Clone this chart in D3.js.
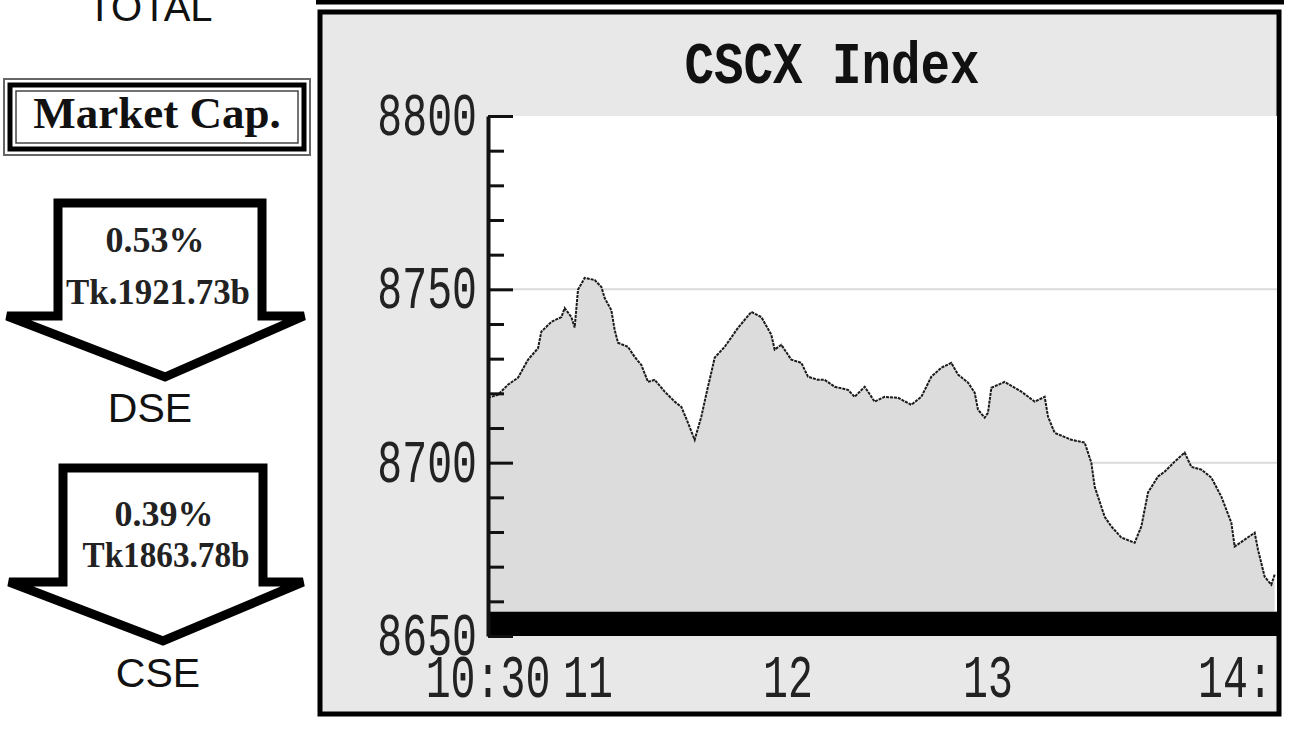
<!DOCTYPE html>
<html>
<head>
<meta charset="utf-8">
<script src="https://cdn.jsdelivr.net/npm/d3@7"></script>
<style>
  html, body { margin: 0; padding: 0; background: #ffffff; }
  svg { display: block; }
</style>
</head>
<body>
<svg id="chart" width="1296" height="729"></svg>
<script>
// ---------- data ----------
const times = ["10:30","10:33","10:36","10:39","10:42","10:45","10:46","10:49","10:52","10:53",
  "10:55","10:56","10:57","10:59","11:02","11:04","11:05","11:07","11:08","11:09",
  "11:12","11:14","11:16","11:18","11:20","11:23","11:26","11:28","11:30","11:32",
  "11:34","11:36","11:37","11:38","11:41","11:45","11:49","11:52","11:55","11:56",
  "11:58","12:01","12:04","12:06","12:09","12:11","12:14","12:18","12:20","12:23",
  "12:26","12:29","12:33","12:37","12:40","12:43","12:46","12:49","12:51","12:54",
  "12:56","12:57","12:59","13:00","13:01","13:05","13:10","13:14","13:17","13:18",
  "13:20","13:25","13:29","13:31","13:32","13:35","13:37","13:40","13:44","13:46",
  "13:48","13:51","13:53","13:56","13:59","14:01","14:04","14:07","14:10","14:13",
  "14:14","14:17","14:20","14:21","14:23","14:25","14:26"];
const indexValues = [8718.7,8719.6,8722.5,8724.5,8729.7,8733.0,8737.8,8740.6,8742.0,8744.6,
  8742.0,8739.0,8749.9,8753.3,8752.7,8750.7,8747.5,8744.0,8738.3,8734.6,
  8733.4,8730.5,8728.2,8723.3,8723.9,8720.5,8717.6,8716.1,8711.5,8706.6,
  8713.3,8722.0,8726.0,8730.3,8733.4,8738.9,8743.5,8742.0,8736.9,8732.6,
  8734.0,8729.7,8728.8,8724.8,8723.9,8723.9,8721.9,8721.0,8719.0,8721.9,
  8717.6,8719.0,8718.7,8716.7,8719.0,8724.8,8727.4,8728.8,8725.4,8723.1,
  8720.2,8715.3,8713.0,8714.4,8721.6,8723.3,8720.5,8717.6,8719.0,8713.3,
  8708.6,8706.6,8705.8,8700.0,8693.1,8684.4,8681.6,8678.4,8676.9,8681.6,
  8691.4,8696.0,8697.4,8700.3,8702.9,8698.8,8698.0,8695.7,8690.2,8682.7,
  8675.8,8677.8,8679.8,8674.9,8667.1,8664.8,8667.7];

const yTickLabels = [8650, 8700, 8750, 8800];
const xTickTimes = ["10:30","11:00","12:00","13:00","14:00"];
const xTickLabels = ["10:30","11","12","13","14:"];
const chartTitle = "CSCX Index";

const exchanges = ["DSE", "CSE"];
const capChangePct = ["0.53%", "0.39%"];
const capValues = ["Tk.1921.73b", "Tk1863.78b"];

// ---------- helpers ----------
const toMin = t => { const [h, m] = t.split(":").map(Number); return (h - 10) * 60 + m - 30; };
const data = times.map((t, i) => ({ m: toMin(t), v: indexValues[i] }));

const svg = d3.select("#chart");

// ---------- left panel ----------
const left = svg.append("g");
left.append("text").attr("x", 150).attr("y", 21).attr("text-anchor", "middle")
  .attr("font-family", "Liberation Sans, Arial, sans-serif").attr("font-size", 40).attr("fill", "#111")
  .text("TOTAL");

left.append("rect").attr("x", 4).attr("y", 79).attr("width", 306).attr("height", 76)
  .attr("fill", "none").attr("stroke", "#666").attr("stroke-width", 2);
left.append("rect").attr("x", 10).attr("y", 85).attr("width", 294).attr("height", 64)
  .attr("fill", "none").attr("stroke", "#000").attr("stroke-width", 5);
left.append("rect").attr("x", 16).attr("y", 91).attr("width", 282).attr("height", 52)
  .attr("fill", "#fff").attr("stroke", "#444").attr("stroke-width", 1.5);
left.append("text").attr("x", 157).attr("y", 128).attr("text-anchor", "middle")
  .attr("font-family", "Liberation Serif, 'Times New Roman', serif").attr("font-weight", "bold")
  .attr("font-size", 45).attr("fill", "#111").text("Market Cap.");

const arrows = [
  { stemL: 58, stemR: 262, top: 203, wing: 316, tipL: 7, tipR: 304, bx: 165, by: 377,
    pctX: 155, pctY: 252, valX: 158, valY: 304, valW: 184, nameX: 150, nameY: 422 },
  { stemL: 63, stemR: 263, top: 468, wing: 582, tipL: 9, tipR: 303, bx: 163, by: 641,
    pctX: 164, pctY: 526, valX: 166, valY: 567, valW: 167, nameX: 158, nameY: 687 }
];
arrows.forEach((a, i) => {
  const pts = [[a.stemL, a.top], [a.stemR, a.top], [a.stemR, a.wing], [a.tipR, a.wing],
               [a.bx, a.by], [a.tipL, a.wing], [a.stemL, a.wing]];
  left.append("polygon").attr("points", pts.map(p => p.join(",")).join(" "))
    .attr("fill", "#fff").attr("stroke", "#000").attr("stroke-width", 9)
    .attr("stroke-linejoin", "miter");
  left.append("text").attr("x", a.pctX).attr("y", a.pctY).attr("text-anchor", "middle")
    .attr("font-family", "Liberation Serif, 'Times New Roman', serif").attr("font-weight", "bold")
    .attr("font-size", 36).attr("fill", "#222").text(capChangePct[i]);
  left.append("text").attr("x", a.valX).attr("y", a.valY).attr("text-anchor", "middle")
    .attr("font-family", "Liberation Serif, 'Times New Roman', serif").attr("font-weight", "bold")
    .attr("font-size", 35).attr("fill", "#222")
    .attr("textLength", a.valW).attr("lengthAdjust", "spacingAndGlyphs").text(capValues[i]);
  left.append("text").attr("x", a.nameX).attr("y", a.nameY).attr("text-anchor", "middle")
    .attr("font-family", "Liberation Sans, Arial, sans-serif").attr("font-size", 41)
    .attr("fill", "#111").text(exchanges[i]);
});

// ---------- chart frame ----------
svg.append("line").attr("x1", 316).attr("x2", 1284).attr("y1", 2).attr("y2", 2)
  .attr("stroke", "#000").attr("stroke-width", 5);
svg.append("rect").attr("x", 320).attr("y", 12).attr("width", 959).attr("height", 702)
  .attr("fill", "#e8e8e8").attr("stroke", "#000").attr("stroke-width", 5);

// scales
const x = d3.scaleLinear().domain([0, 240]).range([488, 1288]);
const y = d3.scaleLinear().domain([8650, 8800]).range([636, 116]);
const plotRight = 1277;
const barTop = 8657;

svg.append("defs").append("clipPath").attr("id", "plotclip")
  .append("rect").attr("x", x(0)).attr("y", 100).attr("width", plotRight - x(0)).attr("height", 540);

const plot = svg.append("g").attr("clip-path", "url(#plotclip)");
plot.append("rect").attr("x", x(0)).attr("y", y(8800)).attr("width", plotRight - x(0))
  .attr("height", y(barTop) - y(8800)).attr("fill", "#ffffff");

// gridlines
plot.selectAll("line.grid").data([8700, 8750]).join("line").attr("class", "grid")
  .attr("x1", x(0)).attr("x2", plotRight).attr("y1", d => y(d)).attr("y2", d => y(d))
  .attr("stroke", "#dadada").attr("stroke-width", 2);

// area + line
plot.append("path").datum(data)
  .attr("d", d3.area().x(d => x(d.m)).y0(y(8650)).y1(d => y(d.v)))
  .attr("fill", "#dcdcdc");
plot.append("path").datum(data)
  .attr("d", d3.line().x(d => x(d.m)).y(d => y(d.v)))
  .attr("fill", "none").attr("stroke", "#1a1a1a").attr("stroke-width", 2)
  .attr("stroke-dasharray", "3,1");

// black bar at the bottom
plot.append("rect").attr("x", x(0)).attr("y", y(barTop)).attr("width", plotRight - x(0))
  .attr("height", y(8650) - y(barTop)).attr("fill", "#000");

// y axis
const yAxis = d3.axisRight(y).tickValues(d3.range(8650, 8801, 10)).tickSize(16)
  .tickSizeOuter(0).tickFormat("");
const ya = svg.append("g").attr("transform", `translate(${x(0)},0)`).call(yAxis);
ya.select(".domain").attr("stroke", "#111").attr("stroke-width", 4);
ya.selectAll(".tick line").attr("stroke", "#111").attr("stroke-width", 3)
  .attr("x2", d => (d % 50 === 0 ? 25 : 16));

// y labels
svg.selectAll("text.ylab").data(yTickLabels).join("text").attr("class", "ylab")
  .attr("transform", d => `translate(477,${y(d) + 19}) scale(0.67,1)`)
  .attr("text-anchor", "end").attr("font-family", "Liberation Mono, 'Courier New', monospace")
  .attr("font-size", 62).attr("fill", "#222").text(d => d);

// x labels
svg.selectAll("text.xlab").data(xTickTimes).join("text").attr("class", "xlab")
  .attr("transform", (d, i) => i === xTickTimes.length - 1
      ? `translate(1198,697) scale(0.67,1)`
      : `translate(${x(toMin(d))},697) scale(0.67,1)`)
  .attr("text-anchor", (d, i) => i === xTickTimes.length - 1 ? "start" : "middle")
  .attr("font-family", "Liberation Mono, 'Courier New', monospace")
  .attr("font-size", 62).attr("fill", "#222").text((d, i) => xTickLabels[i]);

// title
svg.append("text").attr("transform", "translate(832,83) scale(0.82,1)")
  .attr("text-anchor", "middle").attr("font-family", "Liberation Mono, 'Courier New', monospace")
  .attr("font-weight", "bold").attr("font-size", 60).attr("fill", "#111").text(chartTitle);
</script>
</body>
</html>
